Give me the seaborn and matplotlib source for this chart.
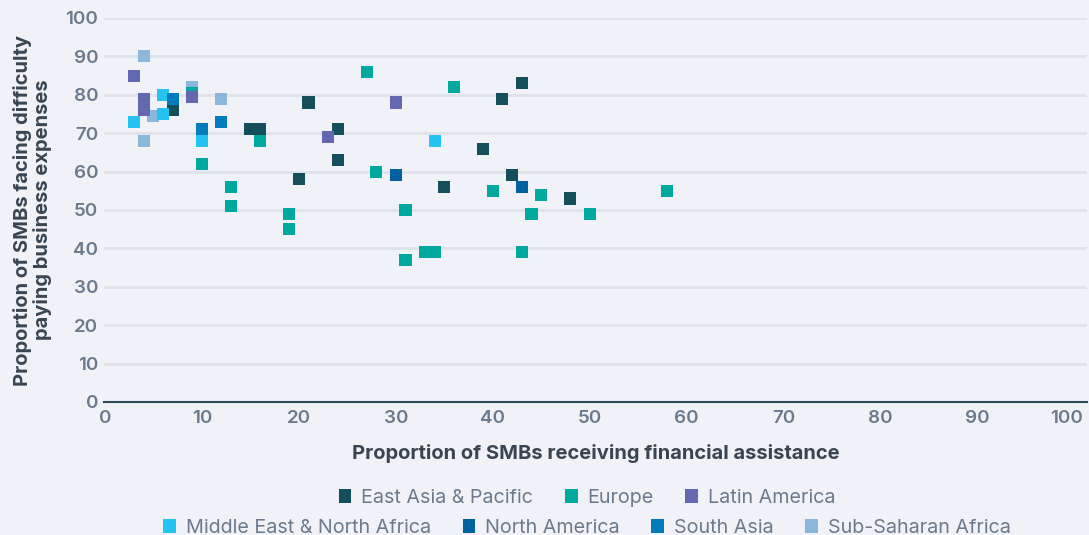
import pandas as pd
import matplotlib.pyplot as plt
import matplotlib.transforms as mtransforms
from matplotlib.patches import Patch
import seaborn as sns

# Data (x: % receiving assistance, y: % facing difficulty)
ssa_x = [4, 5, 4, 9, 12]
ssa_y = [90, 74.5, 68, 82, 79]

eap_x = [7, 15, 16, 21, 24, 24, 20, 35, 39, 41, 43, 42, 48]
eap_y = [76, 71, 71, 78, 71, 63, 58, 56, 66, 79, 83, 59, 53]

europe_x = [9, 10, 13, 13, 16, 19, 19, 27, 28, 31, 31, 33, 34, 36, 40, 43, 44, 45, 50, 58]
europe_y = [80.5, 62, 56, 51, 68, 49, 45, 86, 60, 50, 37, 39, 39, 82, 55, 39, 49, 54, 49, 55]

latam_x = [3, 4, 4, 9, 23, 30]
latam_y = [85, 79, 76, 79.5, 69, 78]

mena_x = [3, 6, 6, 10, 34]
mena_y = [73, 80, 75, 68, 68]

namerica_x = [30, 43]
namerica_y = [59, 56]

sasia_x = [7, 10, 12]
sasia_y = [79, 71, 73]

regions = ['East Asia & Pacific', 'Europe', 'Latin America',
           'Middle East & North Africa', 'North America', 'South Asia',
           'Sub-Saharan Africa']
colors = ['#13505b', '#00a99d', '#6467b2', '#24c3f2', '#0062a0', '#007bbb', '#8bb8da']
palette = dict(zip(regions, colors))

# draw order: Sub-Saharan Africa sits underneath the rest
parts = [('Sub-Saharan Africa', ssa_x, ssa_y),
         ('East Asia & Pacific', eap_x, eap_y),
         ('Europe', europe_x, europe_y),
         ('Latin America', latam_x, latam_y),
         ('Middle East & North Africa', mena_x, mena_y),
         ('North America', namerica_x, namerica_y),
         ('South Asia', sasia_x, sasia_y)]
df = pd.concat([pd.DataFrame({'Region': name, 'Assistance': xs, 'Difficulty': ys})
                for name, xs, ys in parts], ignore_index=True)

x_ticks = list(range(0, 101, 10))
y_ticks = list(range(0, 101, 10))

bg = '#f0f2f7'
tick_color = '#6b7a8c'
label_color = '#3a4553'

sns.set_style('white')
plt.rcParams['font.family'] = ['Inter', 'DejaVu Sans']

fig = plt.figure(figsize=(10.89, 5.35), dpi=100, facecolor=bg)
ax = fig.add_axes([104 / 1089, 1 - 402 / 535, 983 / 1089, 384 / 535])
ax.set_facecolor(bg)

sns.scatterplot(data=df, x='Assistance', y='Difficulty', hue='Region', hue_order=regions,
                palette=palette, marker='s', s=76, linewidth=0, alpha=1,
                legend=False, ax=ax, zorder=3)

ax.set_xlim(-0.1, 101.3)
ax.set_ylim(0, 100)
ax.set_xticks(x_ticks)
ax.set_yticks(y_ticks)

for side in ['top', 'right', 'left']:
    ax.spines[side].set_visible(False)
ax.spines['bottom'].set_color('#2f4a5a')
ax.spines['bottom'].set_linewidth(1.5)
ax.spines['bottom'].set_zorder(4)

ax.yaxis.grid(True, color='#dfe2e8', linewidth=2)
ax.xaxis.grid(False)
ax.set_axisbelow(True)

ax.tick_params(axis='both', length=0, labelsize=13.5, labelcolor=tick_color)
ax.tick_params(axis='y', pad=4)
ax.tick_params(axis='x', pad=6)
for lab in ax.get_xticklabels() + ax.get_yticklabels():
    lab.set_fontweight('semibold')

# last x tick label is pulled in to stay inside the picture
last = ax.get_xticklabels()[-1]
last.set_horizontalalignment('right')
last.set_transform(last.get_transform() + mtransforms.ScaledTranslation(0.09, 0, fig.dpi_scale_trans))

ax.set_xlabel('Proportion of SMBs receiving financial assistance', fontsize=14.5,
              fontweight='bold', color=label_color, labelpad=12)
ax.set_ylabel('Proportion of SMBs facing difficulty\npaying business expenses', fontsize=14.5,
              fontweight='bold', color=label_color, labelpad=10, linespacing=1.05)

# legend split over two centred rows like the original
handles = [Patch(facecolor=palette[r], edgecolor='none') for r in regions]
leg_kw = dict(frameon=False, fontsize=14.2, labelcolor=tick_color, handlelength=0.65,
              handleheight=0.7, handletextpad=0.5, columnspacing=1.6, loc='center')
leg1 = fig.legend(handles[:3], regions[:3], ncol=3, bbox_to_anchor=(0.539, 0.070), **leg_kw)
leg2 = fig.legend(handles[3:], regions[3:], ncol=4, bbox_to_anchor=(0.539, 0.013), **leg_kw)

fig.savefig('out.png', dpi=100, facecolor=bg)
